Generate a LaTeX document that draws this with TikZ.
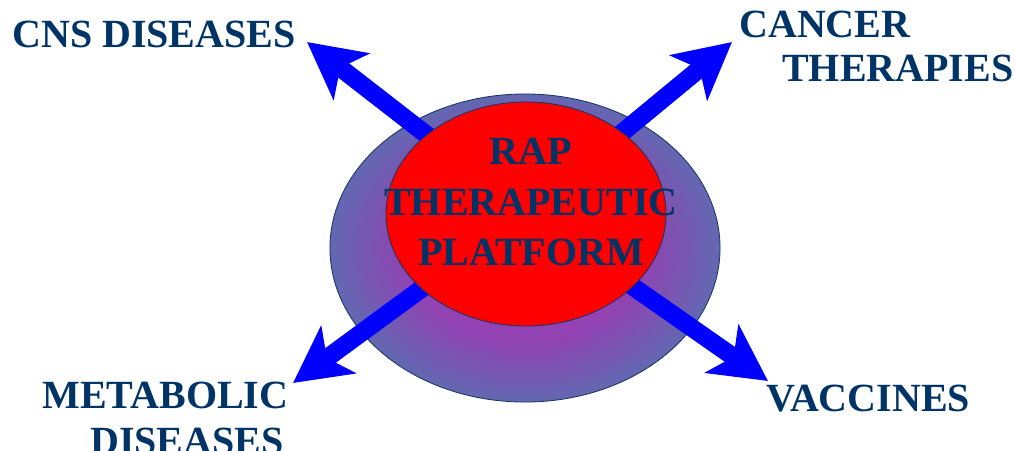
\documentclass[tikz,border=0pt]{standalone}
\usepackage{fontspec}
\setmainfont{Liberation Serif}
\usetikzlibrary{arrows.meta,shapes.geometric}

\definecolor{labelnavy}{RGB}{0,51,102}
\definecolor{ringpurple}{RGB}{146,66,178}
\definecolor{ringblue}{RGB}{98,104,178}
\definecolor{edgenavy}{RGB}{25,55,95}

\pgfdeclareradialshading{ringshading}{\pgfpoint{0bp}{0bp}}{%
  color(0bp)=(ringpurple); color(15bp)=(ringpurple);
  color(25bp)=(ringblue); color(50bp)=(ringblue)}

\begin{document}
\begin{tikzpicture}[
  x=0.025cm, y=-0.025cm,
  ring/.style={ellipse, draw=edgenavy, line width=0.6pt, inner sep=0pt, shading=ringshading, minimum width=9.75cm, minimum height=7.7cm},
  core/.style={ellipse, draw=edgenavy, line width=0.6pt, fill=red, inner sep=0pt, minimum width=7cm, minimum height=5.6cm},
  label/.style={font=\fontsize{28.45pt}{35.6pt}\selectfont\bfseries, text=labelnavy, inner sep=0pt},
  spoke/.style={draw=blue, line width=0.45cm, -{Stealth[length=1.4cm, width=1.45cm, inset=0.35cm]}}
]
  \useasboundingbox (0,0) rectangle (1015,450);

  \node[ring] (outer) at (525,248) {};
  \coordinate (hub) at (526,212);

  \coordinate (cnstip) at (307,42);
  \coordinate (cancertip) at (732,42);
  \coordinate (metatip) at (293,383);
  \coordinate (vaccinetip) at (768,381);

  \draw[spoke] (hub) -- (cnstip);
  \draw[spoke] (hub) -- (cancertip);
  \draw[spoke] (hub) -- (metatip);
  \draw[spoke] (hub) -- (vaccinetip);

  \node[core] (platform) at (526,214) {};
  \node[label, align=center] (platformtext) at (531,202) {RAP\\THERAPEUTIC\\PLATFORM};

  \node[label, anchor=base west] (cns) at (12,47) {CNS DISEASES};
  \node[label, anchor=base west] (cancer) at (739,37) {CANCER};
  \node[label, anchor=base west] (therapies) at (782,81) {THERAPIES};
  \node[label, anchor=base west] (metabolic) at (42,408) {METABOLIC};
  \node[label, anchor=base west] (diseases) at (90,454) {DISEASES};
  \node[label, anchor=base west] (vaccines) at (766,411) {VACCINES};
\end{tikzpicture}
\end{document}
